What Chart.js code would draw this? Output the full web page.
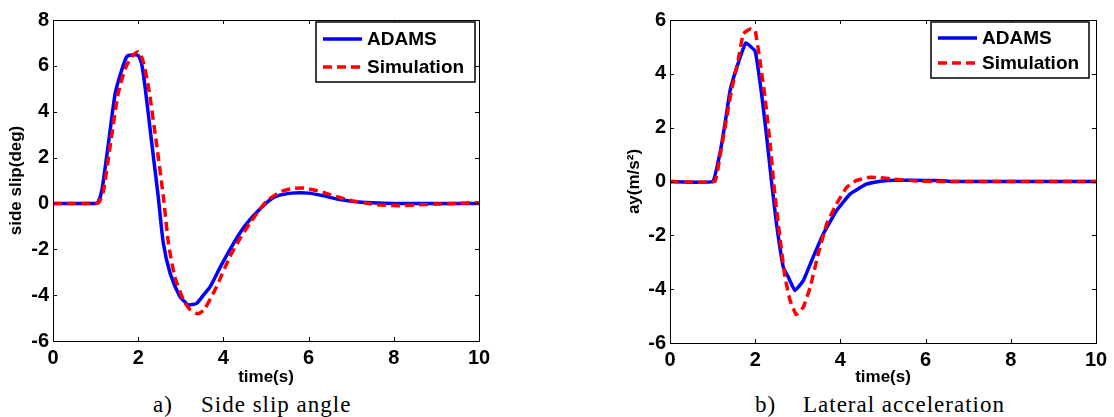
<!DOCTYPE html>
<html>
<head>
<meta charset="utf-8">
<script src="https://cdn.jsdelivr.net/npm/chart.js@4"></script>
<style>
    body { margin: 0; background: #fff; }
    #page { position: relative; width: 1114px; height: 417px; overflow: hidden; background: #fff; }
    canvas { position: absolute; top: 0; }
    #chart-slip { left: 0; }
    #chart-ay { left: 600px; }
    .caption {
        position: absolute; top: 393px; font-family: "Liberation Serif", "DejaVu Serif", serif;
        font-size: 23px; line-height: 23px; letter-spacing: 1px; white-space: pre; color: #000;
    }
</style>
</head>
<body>
<div id="page">
    <canvas id="chart-slip" width="500" height="390"></canvas>
    <canvas id="chart-ay" width="514" height="390"></canvas>
    <div class="caption" style="left:153px">a)</div>
    <div class="caption" style="left:201px">Side slip angle</div>
    <div class="caption" style="left:755px">b)</div>
    <div class="caption" style="left:803px">Lateral acceleration</div>
</div>
<script>
// Gráfico a) ángulo de deriva
const slipTimeAdams = [0, 1.0, 1.06, 1.15, 1.3, 1.46, 1.61, 1.73, 1.85, 2.0, 2.08, 2.16, 2.32, 2.47, 2.59, 2.75, 2.98, 3.1, 3.18, 3.37, 3.53, 3.69, 3.92, 4.15, 4.35, 4.55, 4.8, 5.09, 5.3, 5.6, 5.8, 6.0, 6.3, 6.7, 7.0, 7.5, 8.0, 10];
const slipAdams = [0, 0, 0.05, 0.6, 2.6, 4.8, 5.8, 6.4, 6.47, 6.45, 6.1, 5.1, 2.6, 0.3, -1.74, -3.05, -4.07, -4.3, -4.43, -4.36, -4.0, -3.63, -2.8, -2.03, -1.4, -0.87, -0.35, 0.15, 0.35, 0.45, 0.47, 0.45, 0.35, 0.18, 0.1, 0.03, 0, 0];
const slipTimeSim = [0, 1.0, 1.08, 1.18, 1.35, 1.53, 1.7, 1.85, 2.0, 2.1, 2.24, 2.43, 2.59, 2.71, 2.86, 3.06, 3.2, 3.37, 3.45, 3.57, 3.84, 4.15, 4.4, 4.62, 4.8, 5.0, 5.2, 5.4, 5.64, 5.87, 6.1, 6.4, 6.73, 7.0, 7.3, 7.6, 8.07, 8.5, 9.0, 9.5, 10];
const slipSim = [0, 0, 0.05, 0.5, 2.6, 4.8, 5.9, 6.4, 6.62, 6.3, 5.1, 2.6, 0.3, -1.74, -3.2, -4.2, -4.6, -4.8, -4.78, -4.58, -3.63, -2.33, -1.5, -0.87, -0.4, 0.07, 0.35, 0.55, 0.65, 0.67, 0.6, 0.45, 0.26, 0.12, 0.03, -0.06, -0.1, -0.07, -0.03, 0, 0.03];

// Gráfico b) aceleración lateral
const ayTimeAdams = [0, 1.0, 1.17, 1.29, 1.41, 1.57, 1.78, 2.0, 2.15, 2.27, 2.39, 2.5, 2.66, 2.78, 2.93, 3.13, 3.36, 3.6, 3.91, 4.23, 4.62, 4.93, 5.3, 6.0, 6.4, 6.6, 10];
const ayAdams = [0, 0, 1.03, 2.14, 3.38, 4.25, 5.15, 4.84, 3.26, 1.65, -0.09, -1.57, -3.19, -3.56, -4.05, -3.68, -2.81, -1.94, -1.08, -0.46, -0.09, 0.01, 0.05, 0.04, 0.03, 0, 0];
const ayTimeSim = [0, 1.05, 1.17, 1.29, 1.45, 1.6, 1.72, 1.88, 2.0, 2.11, 2.23, 2.35, 2.46, 2.58, 2.7, 2.82, 2.96, 3.13, 3.29, 3.48, 3.68, 3.91, 4.15, 4.38, 4.69, 4.93, 5.3, 5.8, 6.2, 10];
const aySim = [0, 0, 0.9, 2.0, 3.44, 4.5, 5.49, 5.67, 5.6, 4.5, 3.13, 1.4, -0.46, -2.07, -3.56, -4.42, -4.94, -4.67, -3.93, -2.69, -1.57, -0.83, -0.21, 0.04, 0.16, 0.14, 0.08, 0.02, 0, 0];

const xTicks = [0, 2, 4, 6, 8, 10];
const slipTicks = [-6, -4, -2, 0, 2, 4, 6, 8];
const ayTicks = [-6, -4, -2, 0, 2, 4, 6];

const FONT = "'Liberation Sans', Arial, sans-serif";

function puntos(xs, ys) {
    return xs.map((x, i) => ({ x: x, y: ys[i] }));
}

// caja, marcas internas y leyenda al estilo MATLAB
const cajaMatlab = {
    id: "cajaMatlab",
    afterDatasetsDraw(chart, args, opts) {
        const { ctx, chartArea: a, scales } = chart;
        ctx.save();
        ctx.strokeStyle = "#000";
        ctx.lineWidth = 1;
        ctx.strokeRect(Math.round(a.left) + 0.5, Math.round(a.top) + 0.5, Math.round(a.width), Math.round(a.height));
        ctx.beginPath();
        scales.x.ticks.forEach((t) => {
            const px = Math.round(scales.x.getPixelForValue(t.value)) + 0.5;
            ctx.moveTo(px, a.bottom); ctx.lineTo(px, a.bottom - 4);
            ctx.moveTo(px, a.top); ctx.lineTo(px, a.top + 4);
        });
        scales.y.ticks.forEach((t) => {
            const py = Math.round(scales.y.getPixelForValue(t.value)) + 0.5;
            ctx.moveTo(a.left, py); ctx.lineTo(a.left + 4, py);
            ctx.moveTo(a.right, py); ctx.lineTo(a.right - 4, py);
        });
        ctx.stroke();

        const bx = a.right - opts.right - opts.width;
        const by = a.top + opts.top;
        ctx.fillStyle = "#fff";
        ctx.fillRect(bx, by, opts.width, opts.height);
        ctx.lineWidth = 1.5;
        ctx.strokeRect(bx, by, opts.width, opts.height);
        ctx.font = "bold 19px " + FONT;
        ctx.textBaseline = "middle";
        chart.data.datasets.forEach((ds, i) => {
            const ry = by + opts.rows[i];
            ctx.strokeStyle = ds.borderColor;
            ctx.lineWidth = 3.5;
            ctx.setLineDash(ds.borderDash || []);
            ctx.beginPath();
            ctx.moveTo(bx + 7, ry);
            ctx.lineTo(bx + 46, ry);
            ctx.stroke();
            ctx.setLineDash([]);
            ctx.fillStyle = "#000";
            ctx.fillText(ds.label, bx + 51, ry + 1);
        });
        ctx.restore();
    },
};

function crearGrafico(id, tA, yA, tS, yS, yTicks, yTitle, layout) {
    const ctx = document.getElementById(id).getContext("2d");
    return new Chart(ctx, {
        type: "line",
        data: {
            datasets: [{
                label: "ADAMS",
                data: puntos(tA, yA),
                borderColor: "#0000FF",
                borderWidth: 3.5,
                pointRadius: 0,
                tension: layout.tension,
                order: 1,
            }, {
                label: "Simulation",
                data: puntos(tS, yS),
                borderColor: "#FF0000",
                borderWidth: 3.5,
                borderDash: [9, 5],
                pointRadius: 0,
                tension: layout.tension,
                order: 0,
            }],
        },
        options: {
            responsive: false,
            animation: false,
            layout: { padding: { top: 20, right: layout.padRight, left: 0, bottom: 0 } },
            plugins: {
                legend: { display: false },
                tooltip: { enabled: false },
                cajaMatlab: layout.legend,
            },
            scales: {
                x: {
                    type: "linear",
                    min: 0,
                    max: 10,
                    afterBuildTicks: (s) => { s.ticks = xTicks.map((v) => ({ value: v })); },
                    afterFit: (s) => { s.height = layout.xHeight; },
                    grid: { display: false, drawTicks: false },
                    border: { display: false },
                    ticks: { color: "#000", padding: 5, font: { family: FONT, size: 20, weight: "bold" } },
                    title: {
                        display: true,
                        text: "time(s)",
                        color: "#000",
                        padding: { top: 0, bottom: 2 },
                        font: { family: FONT, size: 17, weight: "bold" },
                    },
                },
                y: {
                    min: yTicks[0],
                    max: yTicks[yTicks.length - 1],
                    afterBuildTicks: (s) => { s.ticks = yTicks.map((v) => ({ value: v })); },
                    afterFit: (s) => { s.width = layout.yWidth; },
                    grid: { display: false, drawTicks: false },
                    border: { display: false },
                    ticks: { color: "#000", padding: 4, font: { family: FONT, size: 20, weight: "bold" } },
                    title: {
                        display: true,
                        text: yTitle,
                        color: "#000",
                        padding: { top: layout.yTitlePad, bottom: 0 },
                        font: { family: FONT, size: 17, weight: "bold" },
                    },
                },
            },
        },
        plugins: [cajaMatlab],
    });
}

crearGrafico("chart-slip", slipTimeAdams, slipAdams, slipTimeSim, slipSim, slipTicks, "side slip(deg)", {
    tension: 0.2,
    padRight: 21,
    xHeight: 49,
    yWidth: 53,
    yTitlePad: 6,
    legend: { right: 4, top: 2, width: 159, height: 60, rows: [17, 45] },
});

crearGrafico("chart-ay", ayTimeAdams, ayAdams, ayTimeSim, aySim, ayTicks, "ay(m/s\u00B2)", {
    tension: 0.1,
    padRight: 18,
    xHeight: 47,
    yWidth: 70,
    yTitlePad: 24,
    legend: { right: 7, top: 2, width: 158, height: 56, rows: [16, 41] },
});
</script>
</body>
</html>
